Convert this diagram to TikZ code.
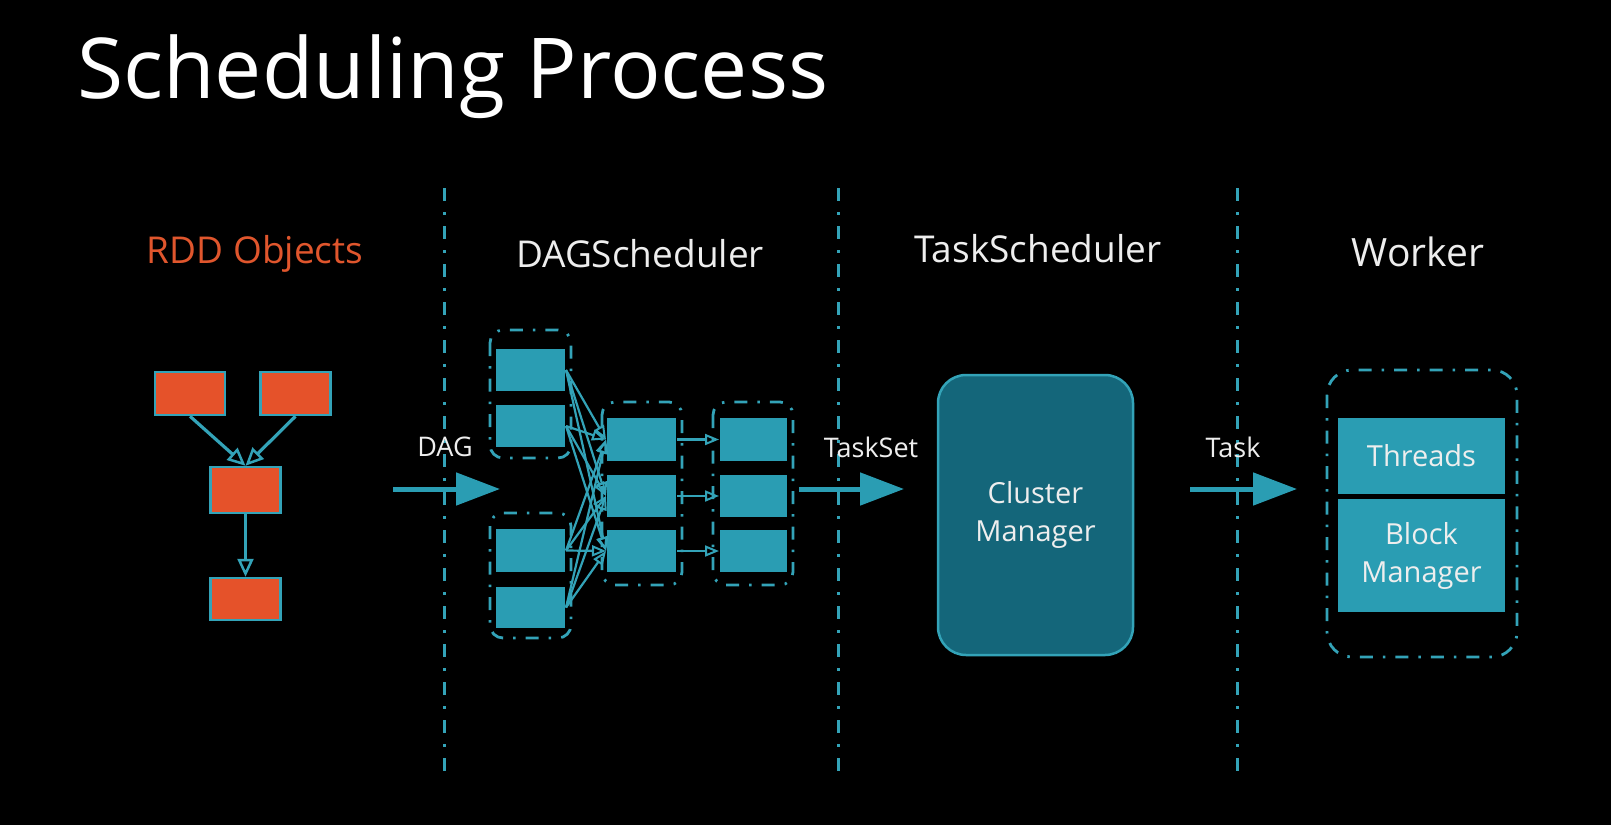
\documentclass[tikz,border=0pt]{standalone}
\usepackage{fontspec}
\setmainfont{Open Sans}
\usetikzlibrary{arrows.meta}
\definecolor{tealbox}{HTML}{2A9DB3}
\definecolor{tealline}{HTML}{33A3B8}
\definecolor{tealdark}{HTML}{14667A}
\definecolor{rddorange}{HTML}{E5522A}
\definecolor{headorange}{HTML}{E0562D}
\definecolor{txt}{HTML}{EEEEEE}
\begin{document}
\begin{tikzpicture}[x=1pt,y=-1pt,
  tbox/.style={draw=black, line width=1.5pt, fill=tealbox, inner sep=0pt, outer sep=0pt},
  rbox/.style={draw=tealline, line width=2.5pt, fill=rddorange, inner sep=0pt, minimum width=70pt},
  grp/.style={draw=tealline, line width=2.8pt, rounded corners=13pt, dash pattern=on 13pt off 10pt on 2.5pt off 10pt},
  vline/.style={draw=tealline, line width=3pt, dash pattern=on 13pt off 11pt on 3pt off 11pt},
  small/.style={-{Triangle[open, length=18pt, width=16pt, line width=2.5pt]}, draw=tealline, line width=3.2pt},
  thin/.style={-{Triangle[open, length=14pt, width=11pt, line width=2pt]}, draw=tealline, line width=2.2pt},
  big/.style={-{Triangle[length=44pt, width=32pt]}, draw=tealbox, line width=5pt},
  head/.style={text=txt, font=\fontsize{37}{40}\selectfont},
  lbl/.style={text=txt, font=\fontsize{27}{30}\selectfont},
  boxtxt/.style={text=txt, font=\fontsize{29}{38}\selectfont, align=center}
]
\useasboundingbox (0,0) rectangle (1611,825);
\fill[black] (0,0) rectangle (1611,825);

% title
\node[anchor=base west, text=white, font=\fontsize{84}{90}\selectfont, inner sep=0pt] (title) at (77,98) {Scheduling Process};

% vertical separators
\coordinate (v1t) at (444,188); \coordinate (v1b) at (444,776);
\coordinate (v2t) at (838,188); \coordinate (v2b) at (838,776);
\coordinate (v3t) at (1237,188); \coordinate (v3b) at (1237,776);
\draw[vline] (v1t) -- (v1b);
\draw[vline] (v2t) -- (v2b);
\draw[vline] (v3t) -- (v3b);

% headers
\node[head, text=headorange] (hrdd) at (255,254) {RDD Objects};
\node[head] (hdag) at (640,254) {DAGScheduler};
\node[head] (htask) at (1038,249) {TaskScheduler};
\node[head, font=\fontsize{39}{40}\selectfont] (hwork) at (1418,252) {Worker};

% RDD objects
\node[rbox, minimum height=43pt] (r1) at (190,393.5) {};
\node[rbox, minimum height=43pt] (r2) at (295.5,393.5) {};
\node[rbox, minimum height=46pt] (r3) at (245.5,490) {};
\node[rbox, minimum height=42pt] (r4) at (245.5,599) {};
\draw[small] (r1.south) -- (r3.north);
\draw[small] (r2.south) -- (r3.north);
\draw[small] (r3.south) -- (r4.north);

% DAG scheduler groups
\draw[grp] (490,330) rectangle (571,458);
\draw[grp] (490,513) rectangle (571,638);
\draw[grp] (602,402) rectangle (682,585);
\draw[grp] (713,402) rectangle (793,585);

\node[tbox, minimum width=71pt, minimum height=44pt] (a1) at (530.5,370) {};
\node[tbox, minimum width=71pt, minimum height=44pt] (a2) at (530.5,426) {};
\node[tbox, minimum width=71pt, minimum height=45pt] (b1) at (530.5,550.5) {};
\node[tbox, minimum width=71pt, minimum height=43pt] (b2) at (530.5,607.5) {};
\node[tbox, minimum width=71pt, minimum height=45pt] (c1) at (641.5,439.5) {};
\node[tbox, minimum width=71pt, minimum height=44pt] (c2) at (641.5,496) {};
\node[tbox, minimum width=71pt, minimum height=44pt] (c3) at (641.5,551) {};
\node[tbox, minimum width=69pt, minimum height=45pt] (d1) at (753.5,439.5) {};
\node[tbox, minimum width=69pt, minimum height=44pt] (d2) at (753.5,496) {};
\node[tbox, minimum width=69pt, minimum height=44pt] (d3) at (753.5,551) {};

\foreach \s in {a1,a2,b1,b2}{
  \foreach \t in {c1,c2,c3}{
    \draw[thin] (\s.east) -- (\t.west);
  }
}
\draw[thin] (c1.east) -- (d1.west);
\draw[thin] (c2.east) -- (d2.west);
\draw[thin] (c3.east) -- (d3.west);

% big arrows
\coordinate (dagS) at (393,489); \coordinate (dagE) at (500,489);
\coordinate (tsS) at (799,489); \coordinate (tsE) at (904,489);
\coordinate (tkS) at (1190,489); \coordinate (tkE) at (1297,489);
\draw[big] (dagS) -- (dagE);
\draw[big] (tsS) -- (tsE);
\draw[big] (tkS) -- (tkE);
\node[lbl] (ldag) at (445,447) {DAG};
\node[lbl] (lts) at (871,447) {TaskSet};
\node[lbl] (ltk) at (1233,447) {Task};

% cluster manager
\node[draw=tealline, line width=2.5pt, fill=tealdark, rounded corners=28pt, minimum width=195pt, minimum height=280pt, boxtxt] (cm) at (1035.5,515) {Cluster\\Manager};

% worker
\draw[grp, rounded corners=25pt] (1327,370) rectangle (1517,657);
\node[tbox, minimum width=169pt, minimum height=78pt, boxtxt] (thr) at (1421.5,456) {Threads};
\node[tbox, minimum width=169pt, minimum height=115pt, boxtxt] (bm) at (1421.5,555.5) {Block\\Manager};
\end{tikzpicture}
\end{document}
